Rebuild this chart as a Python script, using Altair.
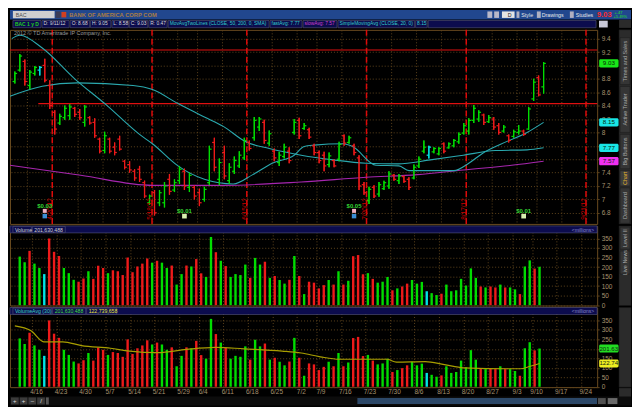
import altair as alt
import pandas as pd

# ---------------- data ----------------
week_start_idx = [3, 8, 13, 18, 23, 28, 33, 37, 42, 47, 52, 57, 61, 66, 71, 76, 81, 86, 91, 96, 101, 105, 110, 115]
week_labels = ["4/16", "4/23", "4/30", "5/7", "5/14", "5/21", "5/29", "6/4", "6/11", "6/18", "6/25", "7/2",
               "7/9", "7/16", "7/23", "7/30", "8/6", "8/13", "8/20", "8/27", "9/3", "9/10", "9/17", "9/24"]

opens = [8.76, 8.93, 9.06, 8.70, 8.88, 8.93, 9.00, 8.70, 8.30, 8.14,
         8.22, 8.25, 8.36, 8.30, 8.15, 8.22, 8.15, 7.90, 7.73, 7.90,
         7.78, 7.90, 7.57, 7.52, 7.42, 7.45, 7.25, 6.95, 7.10, 6.95,
         6.95, 7.30, 7.14, 7.28, 7.42, 7.18, 7.18, 7.10, 7.00, 7.25,
         7.85, 7.30, 7.70, 7.28, 7.42, 7.50, 7.62, 7.85, 7.92, 8.08,
         8.15, 7.84, 7.72, 7.55, 7.64, 7.72, 8.00, 8.18, 8.06, 8.04,
         7.80, 7.70, 7.66, 7.52, 7.58, 7.60, 7.95, 7.85, 7.80, 7.62,
         7.22, 6.98, 7.18, 7.08, 7.16, 7.20, 7.36, 7.28, 7.34, 7.30,
         7.32, 7.50, 7.72, 7.66, 7.71, 7.68, 7.83, 7.77, 7.80, 7.86,
         7.99, 8.02, 8.18, 8.20, 8.26, 8.16, 8.20, 8.10, 8.02, 7.95,
         7.94, 8.00, 8.02, 8.05, 8.50, 8.82, 8.68]
highs = [8.91, 9.17, 9.09, 8.93, 8.99, 8.99, 9.10, 8.78, 8.33, 8.28,
         8.40, 8.42, 8.38, 8.35, 8.41, 8.24, 8.21, 7.92, 8.01, 7.92,
         7.85, 7.95, 7.59, 7.57, 7.45, 7.50, 7.28, 7.07, 7.14, 7.14,
         7.26, 7.38, 7.30, 7.50, 7.46, 7.40, 7.21, 7.16, 7.19, 7.80,
         7.92, 7.61, 7.80, 7.54, 7.64, 7.72, 7.92, 7.88, 8.23, 8.23,
         8.19, 8.03, 7.76, 7.71, 7.83, 7.78, 8.20, 8.22, 8.14, 8.07,
         7.83, 7.73, 7.71, 7.70, 7.60, 7.86, 7.97, 7.95, 7.83, 7.66,
         7.26, 7.19, 7.21, 7.26, 7.28, 7.42, 7.38, 7.38, 7.36, 7.33,
         7.52, 7.64, 7.88, 7.80, 7.78, 7.78, 7.85, 7.85, 7.90, 8.00,
         8.14, 8.21, 8.41, 8.33, 8.28, 8.26, 8.23, 8.14, 8.11, 7.97,
         8.04, 8.11, 8.04, 8.38, 8.80, 8.85, 9.05]
lows = [8.73, 8.91, 8.70, 8.64, 8.85, 8.85, 8.75, 8.35, 7.97, 8.11,
        8.19, 8.19, 8.23, 8.19, 8.09, 8.12, 7.92, 7.69, 7.69, 7.69,
        7.66, 7.73, 7.45, 7.40, 7.28, 7.26, 7.02, 6.92, 6.76, 6.90,
        6.88, 7.07, 7.11, 7.23, 7.14, 7.11, 7.00, 6.90, 6.97, 7.21,
        7.42, 7.21, 7.30, 7.23, 7.38, 7.47, 7.59, 7.73, 7.88, 8.02,
        7.83, 7.80, 7.57, 7.50, 7.61, 7.54, 7.97, 7.90, 8.04, 7.90,
        7.66, 7.54, 7.42, 7.48, 7.48, 7.57, 7.80, 7.83, 7.66, 7.14,
        7.07, 6.93, 7.02, 7.04, 7.14, 7.16, 7.28, 7.23, 7.25, 7.14,
        7.30, 7.47, 7.69, 7.61, 7.69, 7.66, 7.69, 7.76, 7.78, 7.83,
        7.97, 7.97, 8.14, 8.16, 8.11, 8.14, 8.04, 7.97, 8.00, 7.85,
        7.92, 7.97, 7.95, 8.04, 8.47, 8.54, 8.58]
closes = [8.88, 9.14, 8.76, 8.90, 8.97, 8.97, 8.78, 8.40, 8.05, 8.24,
          8.36, 8.38, 8.27, 8.22, 8.38, 8.14, 7.95, 7.72, 7.95, 7.72,
          7.70, 7.75, 7.48, 7.44, 7.32, 7.30, 7.05, 7.05, 6.80, 7.10,
          7.20, 7.12, 7.25, 7.45, 7.20, 7.36, 7.05, 6.95, 7.15, 7.75,
          7.48, 7.55, 7.35, 7.48, 7.58, 7.66, 7.88, 7.76, 8.18, 8.20,
          7.88, 7.98, 7.62, 7.66, 7.78, 7.58, 8.15, 7.95, 8.10, 7.93,
          7.70, 7.58, 7.50, 7.65, 7.50, 7.82, 7.84, 7.92, 7.70, 7.20,
          7.10, 7.15, 7.05, 7.22, 7.25, 7.38, 7.30, 7.35, 7.27, 7.18,
          7.48, 7.60, 7.78, 7.78, 7.76, 7.76, 7.72, 7.83, 7.88, 7.97,
          8.10, 8.18, 8.36, 8.30, 8.15, 8.22, 8.08, 8.00, 8.08, 7.88,
          8.01, 8.02, 7.97, 8.35, 8.75, 8.56, 9.03]
bar_dir = list("ggrggcrrrg" "ggrrgrrrgr" "rrrrrrrgrg" "grggrgrrgg" "rgrggggrgg"
               "rgrggrgrgr" "rrrgrgrgrr" "rgrgggrgrr" "gggcggrggg" "ggggrgrrgr" "ggrggrg")
volume_m = [255, 225, 285, 218, 195, 163, 350, 280, 258, 195,
            168, 133, 123, 140, 178, 138, 207, 195, 168, 183,
            178, 158, 250, 173, 203, 218, 245, 223, 233, 223,
            195, 208, 108, 163, 208, 203, 242, 167, 148, 358,
            278, 233, 205, 148, 163, 158, 213, 143, 248, 213,
            228, 143, 153, 132, 113, 133, 258, 153, 58, 123,
            118, 88, 105, 132, 108, 178, 108, 128, 257, 263,
            162, 168, 138, 118, 123, 148, 78, 88, 98, 113,
            132, 113, 122, 73, 63, 53, 60, 108, 73, 78,
            138, 103, 193, 143, 98, 93, 98, 93, 108, 93,
            93, 83, 58, 203, 235, 192, 201.63]

ma20_idx = [-0.6, 1, 5.5, 12, 18.5, 25, 27.6, 32.7, 38, 43.8, 47.7, 51.6, 56, 58, 60, 65.8, 67.7,
            72.4, 77, 79, 88, 91, 93.8, 98.8, 102.7, 106]
ma20_val = [9.40, 9.45, 9.26, 8.80, 8.40, 7.97, 7.83, 7.50, 7.30, 7.23, 7.37, 7.54, 7.66, 7.79, 7.81,
            7.83, 7.79, 7.51, 7.50, 7.43, 7.43, 7.54, 7.69, 7.87, 8.00, 8.15]
ma50_idx = [-1, 5.5, 12.6, 23.7, 27.6, 32.7, 38, 41.8, 46.3, 51, 57.4, 63.8, 70.4, 76.8, 83.3, 89.9,
            96.3, 102.7, 106]
ma50_val = [8.54, 8.69, 8.74, 8.70, 8.64, 8.43, 8.23, 8.09, 7.86, 7.76, 7.66, 7.59, 7.54, 7.53, 7.59,
            7.66, 7.73, 7.74, 7.77]
ma200_idx = [-1, 13.2, 27.6, 41.8, 57.4, 70.4, 80.7, 89.9, 99.6, 106]
ma200_val = [7.51, 7.36, 7.21, 7.21, 7.26, 7.33, 7.37, 7.44, 7.51, 7.57]
vavg_idx = [-1, 2.3, 4.9, 8.8, 12.6, 18.5, 22.4, 28.2, 34, 39.9, 45.7, 53.5, 57.4, 61.3, 65.2, 74.9,
            76.8, 82.7, 86.6, 90.5, 100.2, 102.1, 104.1, 106]
vavg_val = [321, 295, 237, 237, 217, 203, 188, 180, 197, 208, 200, 188, 178, 158, 145, 145, 130, 133,
            117, 100, 95, 95, 108, 122.74]

expiry_idx = [7, 27, 46, 70, 90, 114]
expiry_labels = ["4/20/12", "5/18/12", "6/15/12", "7/20/12", "8/17/12", "9/21/12"]
level_prices = [9.23, 8.43]
level_start_idx = [-1, 4.7]
earn_idx = [6, 68]
earn_labels = ["$0.03", "$0.05"]
div_idx = [34, 102]
div_labels = ["$0.01", "$0.01"]
price_ticks = [6.8, 7.0, 7.2, 7.4, 7.6, 7.8, 8.0, 8.2, 8.4, 8.6, 8.8, 9.0, 9.2, 9.4]
vol_ticks = [0, 50, 100, 150, 200, 250, 300, 350]
price_tags = [9.03, 8.15, 7.77, 7.57]
price_tag_fill = ["#19e619", "#19e6e6", "#19e6e6", "#f030f0"]
vol_tags = [201.63, 122.74]
vol_tag_fill = ["#22dd22", "#eeee22"]

header_cells = ["BAC 1 y D", "D: 9/11/12", "O: 8.68", "H: 9.05", "L: 8.58", "C: 9.03", "R: 0.47",
                "MovAvgTwoLines (CLOSE, 50, 200, 0, SMA)", "fastAvg: 7.77", "slowAvg: 7.57",
                "SimpleMovingAvg (CLOSE, 20, 0)", "8.15", ""]
header_colors = ["#22cc22", "#d8d8d8", "#d8d8d8", "#d8d8d8", "#d8d8d8", "#d8d8d8", "#d8d8d8",
                 "#33cccc", "#33cccc", "#d040d0", "#33cccc", "#33cccc", "#d8d8d8"]
header_x = [3, 33, 62, 83, 105, 123, 143, 163, 268, 302, 338, 418, 431, 605]
vol_header = ["Volume", "201,630,488"]
vol_header_colors = ["#d0d0d0", "#d0d0d0"]
vol_header_x = [3, 23, 58]
vavg_header = ["VolumeAvg (30)", "201,630,488", "122,739,658"]
vavg_header_colors = ["#3ccfc0", "#44dd44", "#e6e640"]
vavg_header_x = [3, 44, 79, 111]
side_tabs = ["Times and Sales", "Active Trader", "Big Buttons", "Chart", "Dashboard", "Level II", "Live News"]
side_tab_y = [(29, 78), (80, 128), (130, 166), (168, 184), (186, 223), (227, 250), (252, 276)]

# ---------------- layout / style ----------------
SX, SY = 0.975, 0.9614
FONT = "Liberation Sans"
W = 590
TOP_H, PRICE_H, VOL_H = 18, 195, 80
SP = 2
PRICE_TOP = TOP_H + SP
VOL_TOP = PRICE_TOP + PRICE_H + SP
VOL2_TOP = VOL_TOP + VOL_H + SP
FULL_W = 624

GRID = "#5e441c"
BORDER = "#6a4b1f"
LBL = "#a8926e"
UP, DN, FLAT = "#00dd00", "#ee1a1a", "#00e4e4"
TEAL, MAG, VAVG = "#2aa8ae", "#a626ae", "#a89e00"
RED = "#dd0a0a"
NAVY = "#0c0c4e"
CELLB = "#56567c"
SIDE = "#2b2b2b"


def px(r):
    return round(r * SX, 2)


def py(r, top):
    return round(r * SY - top, 2)


XDOM = [-0.973, 116.74]
xs = alt.Scale(domain=XDOM, nice=False, zero=False)
week_grid = [w - 0.5 for w in week_start_idx]
label_expr = ("[" + ",".join("'%s'" % l for l in week_labels) + "][indexof(["
              + ",".join(str(g) for g in week_grid) + "], datum.value)]")
xax_hidden = alt.Axis(values=week_grid, grid=True, gridColor=GRID, gridDash=[1, 2], gridOpacity=1,
                      labels=False, ticks=False, domain=False, title=None, minExtent=0, maxExtent=0)
xax_shown = alt.Axis(values=week_grid, grid=True, gridColor=GRID, gridDash=[1, 2], gridOpacity=1,
                     labels=True, labelExpr=label_expr, labelColor=LBL, labelFontSize=6.5, labelFont=FONT,
                     labelOffset=4, labelPadding=1, labelOverlap=False, labelFlush=False,
                     ticks=False, domain=False, title=None, minExtent=0)

hidden_price = [9.0, 7.8, 7.6]
ps = alt.Scale(domain=[6.634, 9.531], nice=False, zero=False)
yax_p = alt.Axis(orient="right", values=price_ticks, grid=True, gridColor=GRID,
                 labelExpr="indexof([" + ",".join(str(v) for v in hidden_price)
                           + "], datum.value) >= 0 ? '' : format(datum.value, '.1~f')",
                 gridDash=[1, 2], gridOpacity=1, domain=False, ticks=True, tickSize=2, tickColor=GRID,
                 labelColor=LBL, labelFontSize=6.5, labelFont=FONT, labelPadding=2, title=None, minExtent=0)
vs = alt.Scale(domain=[-2, 416], nice=False, zero=False)
vs2 = alt.Scale(domain=[-2, 418], nice=False, zero=False)


def vol_axis(hidden):
    return alt.Axis(orient="right", values=vol_ticks, grid=True, gridColor=GRID,
                    labelExpr="indexof([" + ",".join(str(v) for v in hidden)
                              + "], datum.value) >= 0 ? '' : format(datum.value, 'd')",
                    gridDash=[1, 2], gridOpacity=1, domain=False, ticks=True, tickSize=2, tickColor=GRID,
                    labelColor=LBL, labelFontSize=6.5, labelFont=FONT, labelPadding=2, title=None,
                    minExtent=0)


yax_v1 = vol_axis([-1])
yax_v2 = vol_axis([200])

bar_color = alt.Color("d:N", scale=alt.Scale(domain=["g", "r", "c"], range=[UP, DN, FLAT]), legend=None)


def deco_rects(rows, stroke=None, sw=0.6):
    df = pd.DataFrame(rows, columns=["x0", "x1", "y0", "y1", "fill"])
    kw = {}
    if stroke:
        kw = dict(stroke=stroke, strokeWidth=sw)
    return alt.Chart(df).mark_rect(**kw).encode(
        x=alt.X("x0:Q", scale=None, axis=None), x2="x1:Q",
        y=alt.Y("y0:Q", scale=None, axis=None), y2="y1:Q",
        fill=alt.Fill("fill:N", scale=None))


def deco_texts(rows, bold=False, angle=0, align="left"):
    df = pd.DataFrame(rows, columns=["x", "y", "t", "col", "fs"])
    kw = dict(align=align, baseline="middle", font=FONT)
    if bold:
        kw["fontWeight"] = "bold"
    if angle:
        kw["angle"] = angle
    return alt.Chart(df).mark_text(**kw).encode(
        x=alt.X("x:Q", scale=None, axis=None), y=alt.Y("y:Q", scale=None, axis=None),
        text="t:N", color=alt.Color("col:N", scale=None), size=alt.Size("fs:Q", scale=None))


def sidebar(top, h):
    rects = [(612, FULL_W, 0, h, SIDE)]
    texts = []
    for lab, (r0, r1) in zip(side_tabs, side_tab_y):
        y0, y1 = py(r0, top), py(r1, top)
        if y0 >= 0 and y1 <= h:
            fill = "#3d3d3d" if lab == "Chart" else "#353535"
            rects.append((613, 623, y0, y1, fill))
            texts.append((618, (y0 + y1) / 2, lab, "#e2b22c" if lab == "Chart" else "#a8a8a8", 5.5))
    return [deco_rects(rects, stroke="#1a1a1a", sw=0.5), deco_texts(texts, angle=270, align="center")]


bars_df = pd.DataFrame({"i": list(range(len(opens))), "o": opens, "h": highs, "l": lows,
                        "c": closes, "d": bar_dir, "v": volume_m})

# ---------------- top panel ----------------
top_rects = [(0, FULL_W, 0, 9.5, "#21478e"),
             (px(3), px(46), 1, 8.3, "#cfcfcf"),
             (px(47), px(52), 1.5, 8, "#3c3c55"),
             (px(53), px(58), 2, 7.5, "#d04020"),
             (px(492), px(497), 1.5, 8, "#b8b8c8"),
             (px(499), px(504), 1.5, 8, "#b8b8c8"),
             (px(507), px(520), 1.5, 8, "#e4e4e4"),
             (px(522), px(525), 1.5, 8, "#b0b0c0"),
             (px(543), px(547), 1.5, 8, "#b0b0c0"),
             (px(577), px(581), 1.5, 8, "#b0b0c0"),
             (612, FULL_W, 10, TOP_H, SIDE),
             (px(607), px(616), 10.8, 17.6, "#c8c8d8")]
cell_rects = [(px(header_x[k]), px(header_x[k + 1] - 1), 10.6, 17.9, NAVY) for k in range(len(header_cells))]
top_texts = [(px(6), 4.9, "BAC", "#505050", 5.3),
             (px(513), 4.9, "D", "#202020", 5.3),
             (px(527), 4.9, "Style", "#e8e8e8", 5.3),
             (px(548), 4.9, "Drawings", "#e8e8e8", 5.3),
             (px(583), 4.9, "Studies", "#e8e8e8", 5.3),
             (px(623), 2.8, "+.47", "#22e022", 4),
             (px(622), 7.2, "+5.49%", "#22e022", 4)]
top_bold = [(px(61), 4.9, "BANK OF AMERICA CORP COM", "#a87c46", 5.8),
            (px(605), 5.2, "9.03", "#ff2a2a", 7.5)]
cell_texts = [(px(header_x[k]) + 1.5, 14.3, header_cells[k], header_colors[k], 4.9)
              for k in range(1, len(header_cells)) if header_cells[k]]
cell_bold = [(px(header_x[0]) + 2, 14.3, header_cells[0], header_colors[0], 5.0)]

top = alt.layer(deco_rects(top_rects), deco_rects(cell_rects, stroke=CELLB),
                deco_texts(top_texts), deco_texts(top_bold, bold=True),
                deco_texts(cell_texts), deco_texts(cell_bold, bold=True)).properties(
    width=FULL_W, height=TOP_H, view=alt.ViewBackground(stroke="transparent"))


# ---------------- price panel ----------------
def XP(f):
    return alt.X(f, scale=xs, axis=xax_hidden)


def YP(f):
    return alt.Y(f, scale=ps, axis=yax_p)


base = alt.Chart(bars_df)
hl_rule = base.mark_rule(strokeWidth=1.2).encode(x=XP("i:Q"), y=YP("l:Q"), y2="h:Q", color=bar_color)
open_tick = base.transform_calculate(xo="datum.i - 0.45").mark_rule(strokeWidth=1.2).encode(
    x=XP("xo:Q"), x2="i:Q", y=YP("o:Q"), color=bar_color)
close_tick = base.transform_calculate(xc="datum.i + 0.45").mark_rule(strokeWidth=1.2).encode(
    x=XP("i:Q"), x2="xc:Q", y=YP("c:Q"), color=bar_color)


def ma_layer(idx, val, color):
    return alt.Chart(pd.DataFrame({"idx": idx, "val": val})).mark_line(
        color=color, strokeWidth=1.1, clip=True, interpolate="monotone").encode(x=XP("idx:Q"), y=YP("val:Q"))


exp_df = pd.DataFrame({"e": expiry_idx, "lab": expiry_labels})
exp_lines = alt.Chart(exp_df).transform_calculate(ex="datum.e + 0.5").mark_rule(
    color=RED, strokeDash=[6, 3], strokeWidth=1.5).encode(x=XP("ex:Q"))
exp_text = alt.Chart(exp_df).transform_calculate(ex="datum.e + 0.1").mark_text(
    angle=270, color="#c80000", fontSize=6.5, font=FONT, align="center", baseline="middle").encode(
    x=XP("ex:Q"), y=alt.value(py(208, PRICE_TOP)), text="lab:N")

lvl_df = pd.DataFrame({"p": level_prices, "start": level_start_idx})
lvl = alt.Chart(lvl_df).transform_calculate(end=str(XDOM[1])).mark_rule(
    color="#e01010", strokeWidth=1.2).encode(x=XP("start:Q"), x2="end:Q", y=YP("p:Q"))

earn_df = pd.DataFrame({"i": earn_idx, "lab": earn_labels})
div_df = pd.DataFrame({"i": div_idx, "lab": div_labels})
earn_txt = alt.Chart(earn_df).mark_text(color="#33d633", fontSize=6, font=FONT, fontWeight="bold").encode(
    x=XP("i:Q"), y=alt.value(py(205, PRICE_TOP)), text="lab:N")
earn_sq1 = alt.Chart(earn_df).mark_square(size=16, color="#eeb0c0", opacity=1).encode(
    x=XP("i:Q"), y=alt.value(py(210, PRICE_TOP)))
earn_sq2 = alt.Chart(earn_df).mark_square(size=20, color="#3a8ed6", opacity=1).encode(
    x=XP("i:Q"), y=alt.value(py(215.5, PRICE_TOP)))
div_txt = alt.Chart(div_df).mark_text(color="#33d633", fontSize=6, font=FONT, fontWeight="bold").encode(
    x=XP("i:Q"), y=alt.value(py(210, PRICE_TOP)), text="lab:N")
div_sq = alt.Chart(div_df).mark_square(size=22, color="#d8f0b0", opacity=1).encode(
    x=XP("i:Q"), y=alt.value(py(215.5, PRICE_TOP)))

ptag_df = pd.DataFrame({"v": price_tags, "fill": price_tag_fill})
ptag_rect = alt.Chart(ptag_df).transform_calculate(lo="datum.v - 0.062", hi="datum.v + 0.062").mark_rect(
    cornerRadius=1.5).encode(x=alt.value(592), x2=alt.value(611.5), y=YP("lo:Q"), y2="hi:Q",
                             fill=alt.Fill("fill:N", scale=None))
ptag_txt = alt.Chart(ptag_df).mark_text(fontSize=6.3, font=FONT, color="#062806", align="center",
                                        baseline="middle").encode(
    x=alt.value(601.7), y=YP("v:Q"), text=alt.Text("v:Q", format=".2f"))
copy_txt = alt.Chart(pd.DataFrame({"t": ["2012 \u00a9 TD Ameritrade IP Company, Inc."]})).mark_text(
    align="left", baseline="top", color="#9a9a9a", fontSize=5.5, font=FONT).encode(
    x=alt.value(4), y=alt.value(1.5), text="t:N")

price = alt.layer(
    hl_rule, exp_lines, lvl,
    ma_layer(ma200_idx, ma200_val, MAG), ma_layer(ma50_idx, ma50_val, TEAL), ma_layer(ma20_idx, ma20_val, TEAL),
    hl_rule, open_tick, close_tick, exp_text,
    earn_txt, earn_sq1, earn_sq2, div_txt, div_sq, copy_txt,
    *sidebar(PRICE_TOP, PRICE_H), ptag_rect, ptag_txt
).properties(width=W, height=PRICE_H, view=alt.ViewBackground(stroke=BORDER))


# ---------------- volume panels ----------------
def header_band(texts, colors, xs_r):
    rects = [(0, W, 0, 7, NAVY)]
    rects += [(px(xs_r[k]), px(xs_r[k + 1] - 1), 0.5, 6.8, NAVY) for k in range(len(texts))]
    trows = [(px(xs_r[k]) + 2, 3.7, texts[k], colors[k], 5.2) for k in range(len(texts))]
    trows.append((px(579), 3.7, "<millions>", "#8a8ad0", 5))
    return [deco_rects(rects, stroke=CELLB), deco_texts(trows)]


def vol_bars(xaxis, yscale, yaxis):
    return base.mark_bar(size=2.4).encode(
        x=alt.X("i:Q", scale=xs, axis=xaxis), y=alt.Y("v:Q", scale=yscale, axis=yaxis),
        y2=alt.datum(0), color=bar_color)


vol1 = alt.layer(
    vol_bars(xax_hidden, vs, yax_v1), *header_band(vol_header, vol_header_colors, vol_header_x),
    *sidebar(VOL_TOP, VOL_H)
).properties(width=W, height=VOL_H, view=alt.ViewBackground(stroke=BORDER))

vavg_line = alt.Chart(pd.DataFrame({"idx": vavg_idx, "val": vavg_val})).mark_line(
    color=VAVG, strokeWidth=1.2, clip=True, interpolate="monotone").encode(
    x=alt.X("idx:Q", scale=xs, axis=xax_shown), y=alt.Y("val:Q", scale=vs2, axis=yax_v2))
vtag_df = pd.DataFrame({"v": vol_tags, "fill": vol_tag_fill})
vtag_rect = alt.Chart(vtag_df).transform_calculate(lo="datum.v - 21", hi="datum.v + 21").mark_rect(
    cornerRadius=1.5).encode(x=alt.value(592), x2=alt.value(611.5),
                             y=alt.Y("lo:Q", scale=vs2, axis=yax_v2), y2="hi:Q",
                             fill=alt.Fill("fill:N", scale=None))
vtag_txt = alt.Chart(vtag_df).mark_text(fontSize=6.2, font=FONT, color="#102810", align="center",
                                        baseline="middle").encode(
    x=alt.value(601.7), y=alt.Y("v:Q", scale=vs2, axis=yax_v2), text=alt.Text("v:Q", format=".2f"))

# bottom toolbar (drawn below the last panel, under its date labels)
BT = VOL_H + 9.5
bot_rects = [(0, FULL_W, BT, BT + 9, "#0c0c0c"),
             (px(1), px(9), BT + 0.8, BT + 8, "#3a3a3a"), (px(10), px(18), BT + 0.8, BT + 8, "#3a3a3a"),
             (px(19), px(27), BT + 0.8, BT + 8, "#3a3a3a"), (px(28), px(36), BT + 0.8, BT + 8, "#3a3a3a"),
             (px(37), px(40), BT + 0.8, BT + 8, "#555555"),
             (px(358), px(605), BT + 1.5, BT + 7.5, "#2c4868"),
             (px(606), px(614), BT + 1.5, BT + 7.5, "#505050"), (px(616), px(626), BT + 1.5, BT + 7.5, "#6a6a6a"),
             (612, FULL_W, VOL_H + 1, BT, SIDE)]
bot_texts = [(px(5), BT + 4.4, "+", "#e0e0e0", 6), (px(14), BT + 4.4, "+", "#e0e0e0", 6),
             (px(23), BT + 4.4, "\u2013", "#e0e0e0", 6), (px(32), BT + 4.4, "/", "#e0e0e0", 6)]

vol2 = alt.layer(
    vol_bars(xax_shown, vs2, yax_v2), vavg_line, *header_band(vavg_header, vavg_header_colors, vavg_header_x),
    *sidebar(VOL2_TOP, VOL_H), vtag_rect, vtag_txt,
    deco_rects(bot_rects), deco_texts(bot_texts, align="center")
).properties(width=W, height=VOL_H, view=alt.ViewBackground(stroke=BORDER))

chart = alt.vconcat(top, price, vol1, vol2, spacing=SP, bounds="flush").properties(
    background="#000000", padding=0).configure_view(stroke="transparent", strokeWidth=1).configure(font=FONT)

chart.save("out.html", embed_options={"renderer": "svg", "actions": False})
